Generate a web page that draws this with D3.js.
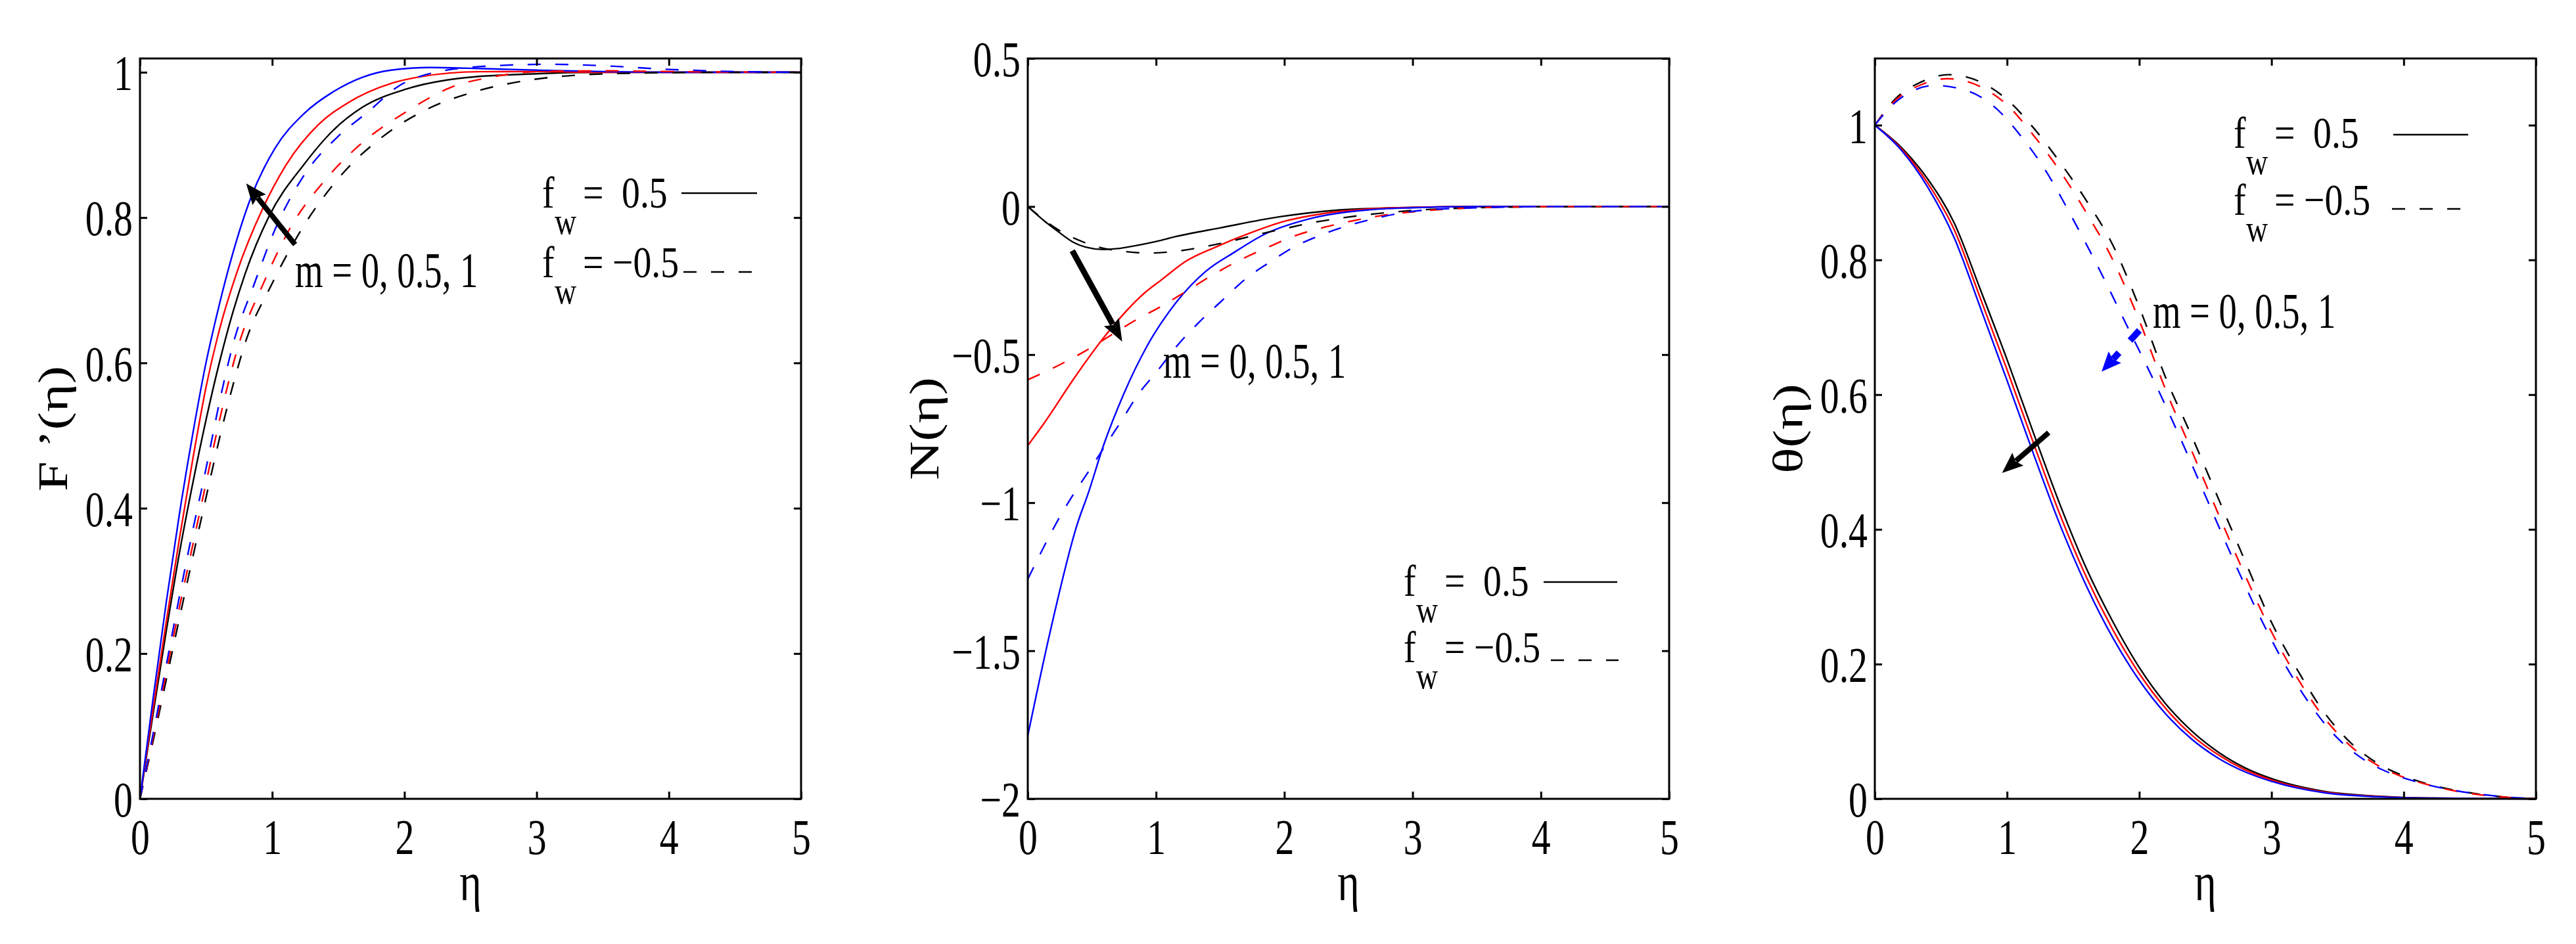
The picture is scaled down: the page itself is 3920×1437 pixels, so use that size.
<!DOCTYPE html>
<html><head><meta charset="utf-8">
<script src="https://cdn.jsdelivr.net/npm/d3@7"></script>
<style>body{margin:0;background:#fff;} text{font-family:"Liberation Serif","Times New Roman",Times,serif;}</style>
</head><body><svg id="c" width="3920" height="1437"></svg>
<script>
// ---------- tick values & labels ----------
const etaTicks = [0, 1, 2, 3, 4, 5];
const etaTickLabels = ["0", "1", "2", "3", "4", "5"];
const unitTicks = [0, 0.2, 0.4, 0.6, 0.8, 1];
const unitTickLabels = ["0", "0.2", "0.4", "0.6", "0.8", "1"];
const nTicks = [-2, -1.5, -1, -0.5, 0, 0.5];
const nTickLabels = ["\u22122", "\u22121.5", "\u22121", "\u22120.5", "0", "0.5"];

const mColors = ["#000000", "#ff0000", "#0000ff"]; // m = 0, 0.5, 1
const annotationText = "m = 0, 0.5, 1";
const legendValues = ["0.5", "\u22120.5"];

// ---------- F'(eta) ----------  [eta, value]
const fp_m0_fwPos = [[0,0],[0.1,0.118],[0.2,0.232],[0.3,0.34],[0.4,0.435],[0.5,0.522],[0.6,0.6],[0.7,0.668],[0.796,0.723],[0.974,0.801],[1.24,0.873],[1.461,0.92],[1.684,0.952],[2.017,0.977],[2.46,0.9925],[3.0,0.998],[3.5,1.0],[5,1.0]];
const fp_m05_fwPos = [[0,0],[0.1,0.125],[0.2,0.245],[0.3,0.36],[0.4,0.468],[0.5,0.567],[0.6,0.645],[0.73,0.723],[0.93,0.813],[1.107,0.873],[1.35,0.928],[1.573,0.958],[1.905,0.985],[2.127,0.994],[2.57,1.0008],[3.0,1.001],[3.5,1.0],[5,1.0]];
const fp_m1_fwPos = [[0,0],[0.1,0.139],[0.2,0.272],[0.3,0.394],[0.4,0.503],[0.497,0.598],[0.58,0.665],[0.663,0.725],[0.84,0.828],[1.02,0.895],[1.24,0.943],[1.46,0.973],[1.68,0.993],[1.9,1.003],[2.2,1.0066],[2.6,1.005],[3.0,1.003],[3.5,1.001],[4,1.0],[5,1.0]];
const fp_m0_fwNeg = [[0,0],[0.1,0.08],[0.2,0.165],[0.3,0.25],[0.4,0.333],[0.5,0.415],[0.6,0.495],[0.7,0.567],[0.795,0.627],[0.996,0.708],[1.24,0.789],[1.506,0.855],[1.84,0.912],[2.17,0.949],[2.527,0.973],[2.9,0.988],[3.3,0.996],[3.8,0.999],[4.5,1.0],[5,1.0]];
const fp_m05_fwNeg = [[0,0],[0.1,0.085],[0.2,0.175],[0.3,0.265],[0.4,0.35],[0.5,0.435],[0.6,0.52],[0.75,0.627],[0.93,0.708],[1.128,0.783],[1.416,0.855],[1.684,0.9035],[2.017,0.946],[2.35,0.979],[2.68,0.994],[3.0,1.001],[3.5,1.002],[4,1.001],[5,1.0]];
const fp_m1_fwNeg = [[0,0],[0.1,0.09],[0.2,0.185],[0.3,0.28],[0.4,0.37],[0.5,0.455],[0.6,0.545],[0.706,0.627],[0.863,0.708],[1.02,0.783],[1.24,0.858],[1.506,0.913],[1.728,0.946],[1.948,0.98],[2.237,1.0],[2.68,1.009],[3.1,1.011],[3.5,1.009],[4,1.004],[4.5,1.001],[5,1.0]];

// ---------- N(eta) ----------
const n_m0_fwPos = [[0,0],[0.13,-0.049],[0.22,-0.079],[0.357,-0.121],[0.45,-0.137],[0.587,-0.145],[0.7,-0.142],[0.815,-0.134],[1.0,-0.118],[1.158,-0.101],[1.5,-0.072],[1.957,-0.035],[2.416,-0.012],[3.0,-0.003],[3.5,0],[5,0]];
const n_m05_fwPos = [[0,-0.807],[0.13,-0.73],[0.358,-0.582],[0.61,-0.433],[0.907,-0.293],[1.05,-0.245],[1.22,-0.188],[1.48,-0.134],[1.73,-0.09],[2.0,-0.05],[2.3,-0.024],[2.64,-0.009],[3.0,-0.003],[3.5,0],[5,0]];
const n_m1_fwPos = [[0,-1.787],[0.174,-1.437],[0.387,-1.071],[0.473,-0.966],[0.587,-0.811],[0.747,-0.634],[0.93,-0.471],[1.158,-0.323],[1.387,-0.219],[1.616,-0.153],[1.844,-0.094],[2.19,-0.042],[2.64,-0.012],[3.0,-0.004],[3.5,0],[5,0]];
const n_m0_fwNeg = [[0,0],[0.244,-0.08],[0.434,-0.12],[0.6,-0.142],[0.736,-0.151],[0.946,-0.157],[1.158,-0.151],[1.383,-0.135],[1.593,-0.116],[1.798,-0.094],[2.003,-0.0745],[2.222,-0.054],[2.44,-0.039],[2.7,-0.025],[2.98,-0.014],[3.5,-0.004],[4,-0.001],[5,0]];
const n_m05_fwNeg = [[0,-0.585],[0.237,-0.537],[0.443,-0.489],[0.62,-0.442],[0.839,-0.384],[1.045,-0.336],[1.25,-0.282],[1.433,-0.233],[1.7,-0.171],[1.89,-0.134],[2.095,-0.097],[2.313,-0.07],[2.524,-0.049],[2.736,-0.032],[3.0,-0.018],[3.3,-0.008],[3.7,-0.002],[4.2,0],[5,0]];
const n_m1_fwNeg = [[0,-1.258],[0.26,-1.04],[0.514,-0.868],[0.6,-0.81],[0.727,-0.726],[0.85,-0.641],[1.009,-0.556],[1.17,-0.467],[1.335,-0.391],[1.518,-0.316],[1.696,-0.245],[1.879,-0.19],[2.07,-0.138],[2.28,-0.097],[2.485,-0.066],[2.69,-0.042],[2.897,-0.023],[3.15,-0.01],[3.6,-0.003],[4,0],[5,0]];

// ---------- theta(eta) ----------
const th_m0_fwPos = [[0,1],[0.2,0.967],[0.4,0.92],[0.6,0.855],[0.8,0.755],[1.0,0.652],[1.2,0.543],[1.4,0.437],[1.6,0.342],[1.8,0.263],[2.0,0.195],[2.2,0.141],[2.4,0.1],[2.6,0.069],[2.8,0.046],[3.0,0.03],[3.4,0.011],[3.8,0.004],[4.2,0.001],[5,0]];
const th_m05_fwPos = [[0,1],[0.2,0.965],[0.4,0.914],[0.6,0.845],[0.8,0.742],[1.0,0.637],[1.2,0.528],[1.4,0.422],[1.6,0.329],[1.8,0.251],[2.0,0.186],[2.2,0.134],[2.4,0.094],[2.6,0.065],[2.8,0.043],[3.0,0.028],[3.4,0.01],[3.8,0.0035],[4.2,0.001],[5,0]];
const th_m1_fwPos = [[0,1],[0.2,0.963],[0.4,0.908],[0.6,0.833],[0.8,0.728],[1.0,0.621],[1.2,0.512],[1.4,0.407],[1.6,0.316],[1.8,0.239],[2.0,0.176],[2.2,0.126],[2.4,0.088],[2.6,0.06],[2.8,0.04],[3.0,0.026],[3.4,0.009],[3.8,0.003],[4.2,0.001],[5,0]];
const th_m0_fwNeg = [[0,1],[0.15,1.038],[0.35,1.064],[0.56,1.075],[0.8,1.064],[1.0,1.038],[1.2,0.996],[1.4,0.945],[1.6,0.888],[1.8,0.822],[2.0,0.73],[2.2,0.625],[2.4,0.537],[2.6,0.445],[2.8,0.353],[3.0,0.262],[3.2,0.19],[3.4,0.128],[3.6,0.083],[3.8,0.053],[4.0,0.034],[4.2,0.021],[4.5,0.009],[4.8,0.002],[5,0]];
const th_m05_fwNeg = [[0,1],[0.15,1.036],[0.35,1.06],[0.55,1.069],[0.8,1.057],[1.0,1.03],[1.2,0.985],[1.4,0.932],[1.6,0.87],[1.8,0.8],[2.0,0.71],[2.2,0.607],[2.4,0.515],[2.6,0.422],[2.8,0.332],[3.0,0.248],[3.2,0.178],[3.4,0.12],[3.6,0.078],[3.8,0.05],[4.0,0.032],[4.2,0.02],[4.5,0.008],[4.8,0.002],[5,0]];
const th_m1_fwNeg = [[0,1],[0.15,1.033],[0.3,1.052],[0.45,1.059],[0.7,1.051],[0.9,1.028],[1.1,0.985],[1.3,0.93],[1.5,0.86],[1.7,0.785],[1.9,0.705],[2.1,0.625],[2.3,0.54],[2.5,0.45],[2.7,0.36],[2.9,0.275],[3.1,0.2],[3.3,0.138],[3.5,0.09],[3.7,0.058],[3.9,0.038],[4.1,0.025],[4.4,0.012],[4.7,0.004],[5,0]];

// ---------- layout ----------
const svg = d3.select("#c");
svg.append("rect").attr("width", 3920).attr("height", 1437).attr("fill", "#fff");
const TOP = 89, H = 1127;
const TICK_SX = 0.76;
const DASH = "20,22";
const LW = 2.4;

function stext(g, x, y, s, size, sx, anchor) {
  return g.append("text")
    .attr("transform", `translate(${x},${y}) scale(${sx},1)`)
    .attr("font-size", size)
    .attr("text-anchor", anchor || "start")
    .attr("fill", "#000")
    .text(s);
}

function arrow(g, x1, y1, x2, y2, color, width, headLen, headW, dash) {
  const dx = x2 - x1, dy = y2 - y1, L = Math.hypot(dx, dy);
  const ux = dx / L, uy = dy / L, px = -uy, py = ux;
  const bx = x2 - ux * headLen, by = y2 - uy * headLen;
  g.append("line").attr("x1", x1).attr("y1", y1)
    .attr("x2", bx + ux * 4).attr("y2", by + uy * 4)
    .attr("stroke", color).attr("stroke-width", width)
    .attr("stroke-dasharray", dash || null);
  const nx = x2 - ux * headLen * 0.85, ny = y2 - uy * headLen * 0.85;
  g.append("path")
    .attr("d", `M${x2},${y2}L${bx + px * headW / 2},${by + py * headW / 2}L${nx},${ny}L${bx - px * headW / 2},${by - py * headW / 2}Z`)
    .attr("fill", color);
}

function panel(cfg) {
  const g = svg.append("g").attr("transform", `translate(${cfg.left},${TOP})`);
  const W = cfg.width;
  const x = d3.scaleLinear().domain([0, 5]).range([0, W]);
  const y = d3.scaleLinear().domain(cfg.yDomain).range([H, 0]);
  const line = d3.line().x(d => x(d[0])).y(d => y(d[1])).curve(d3.curveMonotoneX);

  // curves
  cfg.series.forEach(s => {
    g.append("path").attr("d", line(s.data)).attr("fill", "none")
      .attr("stroke", s.color).attr("stroke-width", LW)
      .attr("stroke-dasharray", s.dashed ? DASH : null);
  });

  // axes
  const styleAxis = (ag) => {
    ag.select(".domain").remove();
    ag.selectAll(".tick line").attr("stroke", "#000").attr("stroke-width", 3);
    ag.attr("font-size", 76).attr("font-family", '"Liberation Serif","Times New Roman",serif');
  };
  const bottom = g.append("g").attr("transform", `translate(0,${H})`)
    .call(d3.axisBottom(x).tickValues(etaTicks).tickFormat((d, i) => etaTickLabels[i]).tickSizeInner(-11).tickSizeOuter(0));
  styleAxis(bottom);
  bottom.selectAll(".tick text").attr("y", null).attr("dy", null)
    .attr("transform", `translate(0,84) scale(${TICK_SX},1)`).attr("fill", "#000");

  const left = g.append("g")
    .call(d3.axisLeft(y).tickValues(cfg.yTicks).tickFormat((d, i) => cfg.yTickLabels[i]).tickSizeInner(-11).tickSizeOuter(0));
  styleAxis(left);
  left.selectAll(".tick text").attr("x", null).attr("dy", "0.35em")
    .attr("transform", `translate(-11,0) scale(${TICK_SX},1)`).attr("fill", "#000");

  const topAx = g.append("g")
    .call(d3.axisTop(x).tickValues(etaTicks).tickFormat("").tickSizeInner(-11).tickSizeOuter(0));
  styleAxis(topAx);
  const rightAx = g.append("g").attr("transform", `translate(${W},0)`)
    .call(d3.axisRight(y).tickValues(cfg.yTicks).tickFormat("").tickSizeInner(-11).tickSizeOuter(0));
  styleAxis(rightAx);

  g.append("rect").attr("x", 0).attr("y", 0).attr("width", W).attr("height", H)
    .attr("fill", "none").attr("stroke", "#000").attr("stroke-width", 3);

  // axis labels
  stext(g, W / 2, H + 154, "\u03b7", 82, 0.78, "middle");
  g.append("text")
    .attr("transform", `translate(${cfg.ylabelX},${H / 2}) scale(0.78,1) rotate(-90)`)
    .attr("font-size", 82).attr("text-anchor", "middle").text(cfg.ylabel);

  // arrows + annotation
  cfg.arrows.forEach(a => arrow(g, x(a.from[0]), y(a.from[1]), x(a.to[0]), y(a.to[1]),
    a.color, a.width, a.head[0], a.head[1], a.dash));
  stext(g, x(cfg.note[0]), y(cfg.note[1]), annotationText, 77, 0.71, "start");

  // legend
  const L = cfg.legend;
  [L.y1, L.y2].forEach((yy, i) => {
    stext(g, L.x, yy, "f", 68, 0.82);
    stext(g, L.x + 19, yy + 40, "w", 56, 0.82);
    stext(g, L.x + 62, yy, "=", 68, 0.82);
    stext(g, L.x + (i === 0 ? 121 : 107), yy, legendValues[i], 68, 0.82);
  });
  g.append("line").attr("x1", L.solid[0]).attr("x2", L.solid[1]).attr("y1", L.solid[2]).attr("y2", L.solid[2])
    .attr("stroke", "#000").attr("stroke-width", LW);
  g.append("line").attr("x1", L.dashed[0]).attr("x2", L.dashed[1]).attr("y1", L.dashed[2]).attr("y2", L.dashed[2])
    .attr("stroke", "#000").attr("stroke-width", LW).attr("stroke-dasharray", DASH);
}

const mk = (arrs) => arrs.map((d, i) => ({ data: d, color: mColors[i % 3], dashed: i >= 3 }));

panel({
  left: 213, width: 1006, yDomain: [0, 1.019], yTicks: unitTicks, yTickLabels: unitTickLabels,
  ylabel: "F \u2019(\u03b7)", ylabelX: -111,
  series: mk([fp_m0_fwPos, fp_m05_fwPos, fp_m1_fwPos, fp_m0_fwNeg, fp_m05_fwNeg, fp_m1_fwNeg]),
  arrows: [{ from: [1.173, 0.763], to: [0.803, 0.847], color: "#000", width: 8, head: [32, 26] }],
  note: [1.173, 0.704],
  legend: { x: 612, y1: 227, y2: 332.5, solid: [824, 939, 205], dashed: [827, 932, 325] }
});
panel({
  left: 1564, width: 976, yDomain: [-2, 0.5], yTicks: nTicks, yTickLabels: nTickLabels,
  ylabel: "N(\u03b7)", ylabelX: -136,
  series: mk([n_m0_fwPos, n_m05_fwPos, n_m1_fwPos, n_m0_fwNeg, n_m05_fwNeg, n_m1_fwNeg]),
  arrows: [{ from: [0.347, -0.149], to: [0.736, -0.456], color: "#000", width: 9, head: [34, 26] }],
  note: [1.055, -0.578],
  legend: { x: 572, y1: 818, y2: 919, solid: [785, 897, 797], dashed: [796, 899, 916] }
});
panel({
  left: 2853, width: 1006, yDomain: [0, 1.099], yTicks: unitTicks, yTickLabels: unitTickLabels,
  ylabel: "\u03b8(\u03b7)", ylabelX: -111,
  series: mk([th_m0_fwPos, th_m05_fwPos, th_m1_fwPos, th_m0_fwNeg, th_m05_fwNeg, th_m1_fwNeg]),
  arrows: [
    { from: [1.315, 0.5437], to: [0.962, 0.4837], color: "#000", width: 8, head: [32, 26] },
    { from: [2.001, 0.6954], to: [1.715, 0.634], color: "#0000ff", width: 10, head: [30, 26], dash: "21,25" }
  ],
  note: [2.102, 0.6988],
  legend: { x: 546, y1: 135.5, y2: 238, solid: [789, 903, 116], dashed: [787, 892, 229] }
});
</script></body></html>
